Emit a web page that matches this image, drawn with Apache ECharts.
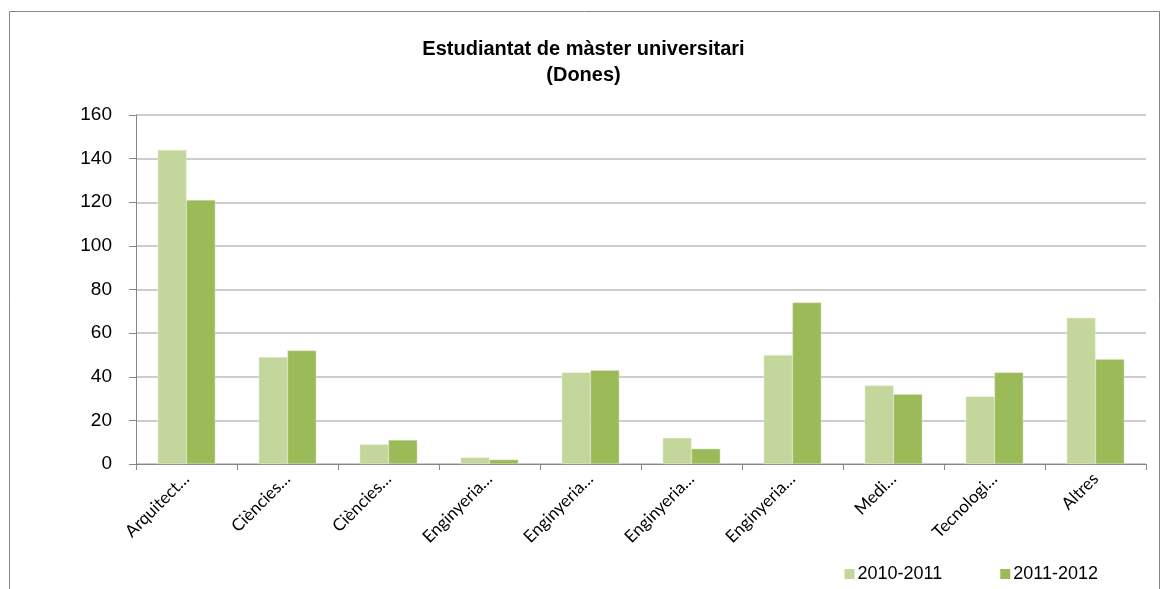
<!DOCTYPE html>
<html>
<head>
<meta charset="utf-8">
<script src="https://cdn.jsdelivr.net/npm/echarts@6/dist/echarts.min.js"></script>
<style>
html,body{margin:0;padding:0;background:#fff;}
#chart{width:1167px;height:589px;}
</style>
</head>
<body>
<div id="chart"></div>
<script>
var categories = ['Arquitect…', 'Ciències…', 'Ciències…', 'Enginyeria…', 'Enginyeria…', 'Enginyeria…', 'Enginyeria…', 'Medi…', 'Tecnologi…', 'Altres'];
var s2010 = [144, 49, 9, 3, 42, 12, 50, 36, 31, 67];
var s2011 = [121, 52, 11, 2, 43, 7, 74, 32, 42, 48];
var seriesNames = ['2010-2011', '2011-2012'];

var myChart = echarts.init(document.getElementById('chart'));
var option = {
    animation: false,
    title: {
        text: 'Estudiantat de màster universitari\n(Dones)',
        left: 'center',
        top: 31,
        textStyle: {
            fontFamily: 'Liberation Sans, Arial',
            fontSize: 20,
            fontWeight: 'bold',
            color: '#000',
            lineHeight: 26
        }
    },
    graphic: [{
        type: 'rect',
        shape: {x: 9.5, y: 11.5, width: 1150, height: 600},
        style: {fill: 'none', stroke: '#868686', lineWidth: 1},
        silent: true
    }],
    legend: {
        data: seriesNames,
        right: 64,
        bottom: 1,
        itemWidth: 10,
        itemHeight: 10,
        itemGap: 58,
        icon: 'rect',
        itemStyle: {borderWidth: 0},
        textStyle: {fontFamily: 'Liberation Sans, Arial', fontSize: 18, color: '#000', padding: [0, 0, 0, -2]}
    },
    grid: {left: 136, right: 21, top: 115, bottom: 125},
    xAxis: [{
        type: 'category',
        data: categories,
        axisLine: {lineStyle: {color: '#868686'}},
        axisTick: {show: true, length: 6, lineStyle: {color: '#868686'}},
        axisLabel: {
            rotate: 45,
            interval: 0,
            margin: 12,
            fontFamily: 'Lato, Open Sans',
            fontSize: 17,
            color: '#000'
        }
    }],
    yAxis: [{
        type: 'value',
        min: 0,
        max: 160,
        interval: 20,
        axisLine: {show: true, lineStyle: {color: '#868686'}},
        axisTick: {show: true, inside: false, length: 7, lineStyle: {color: '#868686'}},
        axisLabel: {fontFamily: 'Liberation Sans, Arial', fontSize: 19, color: '#000', margin: 24},
        splitLine: {lineStyle: {color: '#bdbdbd', width: 1.5}}
    }],
    series: [
        {
            name: seriesNames[0],
            type: 'bar',
            data: s2010,
            barGap: '0%',
            barCategoryGap: '43%',
            itemStyle: {color: '#C3D69B', borderColor: '#e6eed5', borderWidth: 0.5}
        },
        {
            name: seriesNames[1],
            type: 'bar',
            data: s2011,
            itemStyle: {color: '#9BBB59', borderColor: '#d6e3bd', borderWidth: 0.5}
        }
    ]
};
myChart.setOption(option);
</script>
</body>
</html>
